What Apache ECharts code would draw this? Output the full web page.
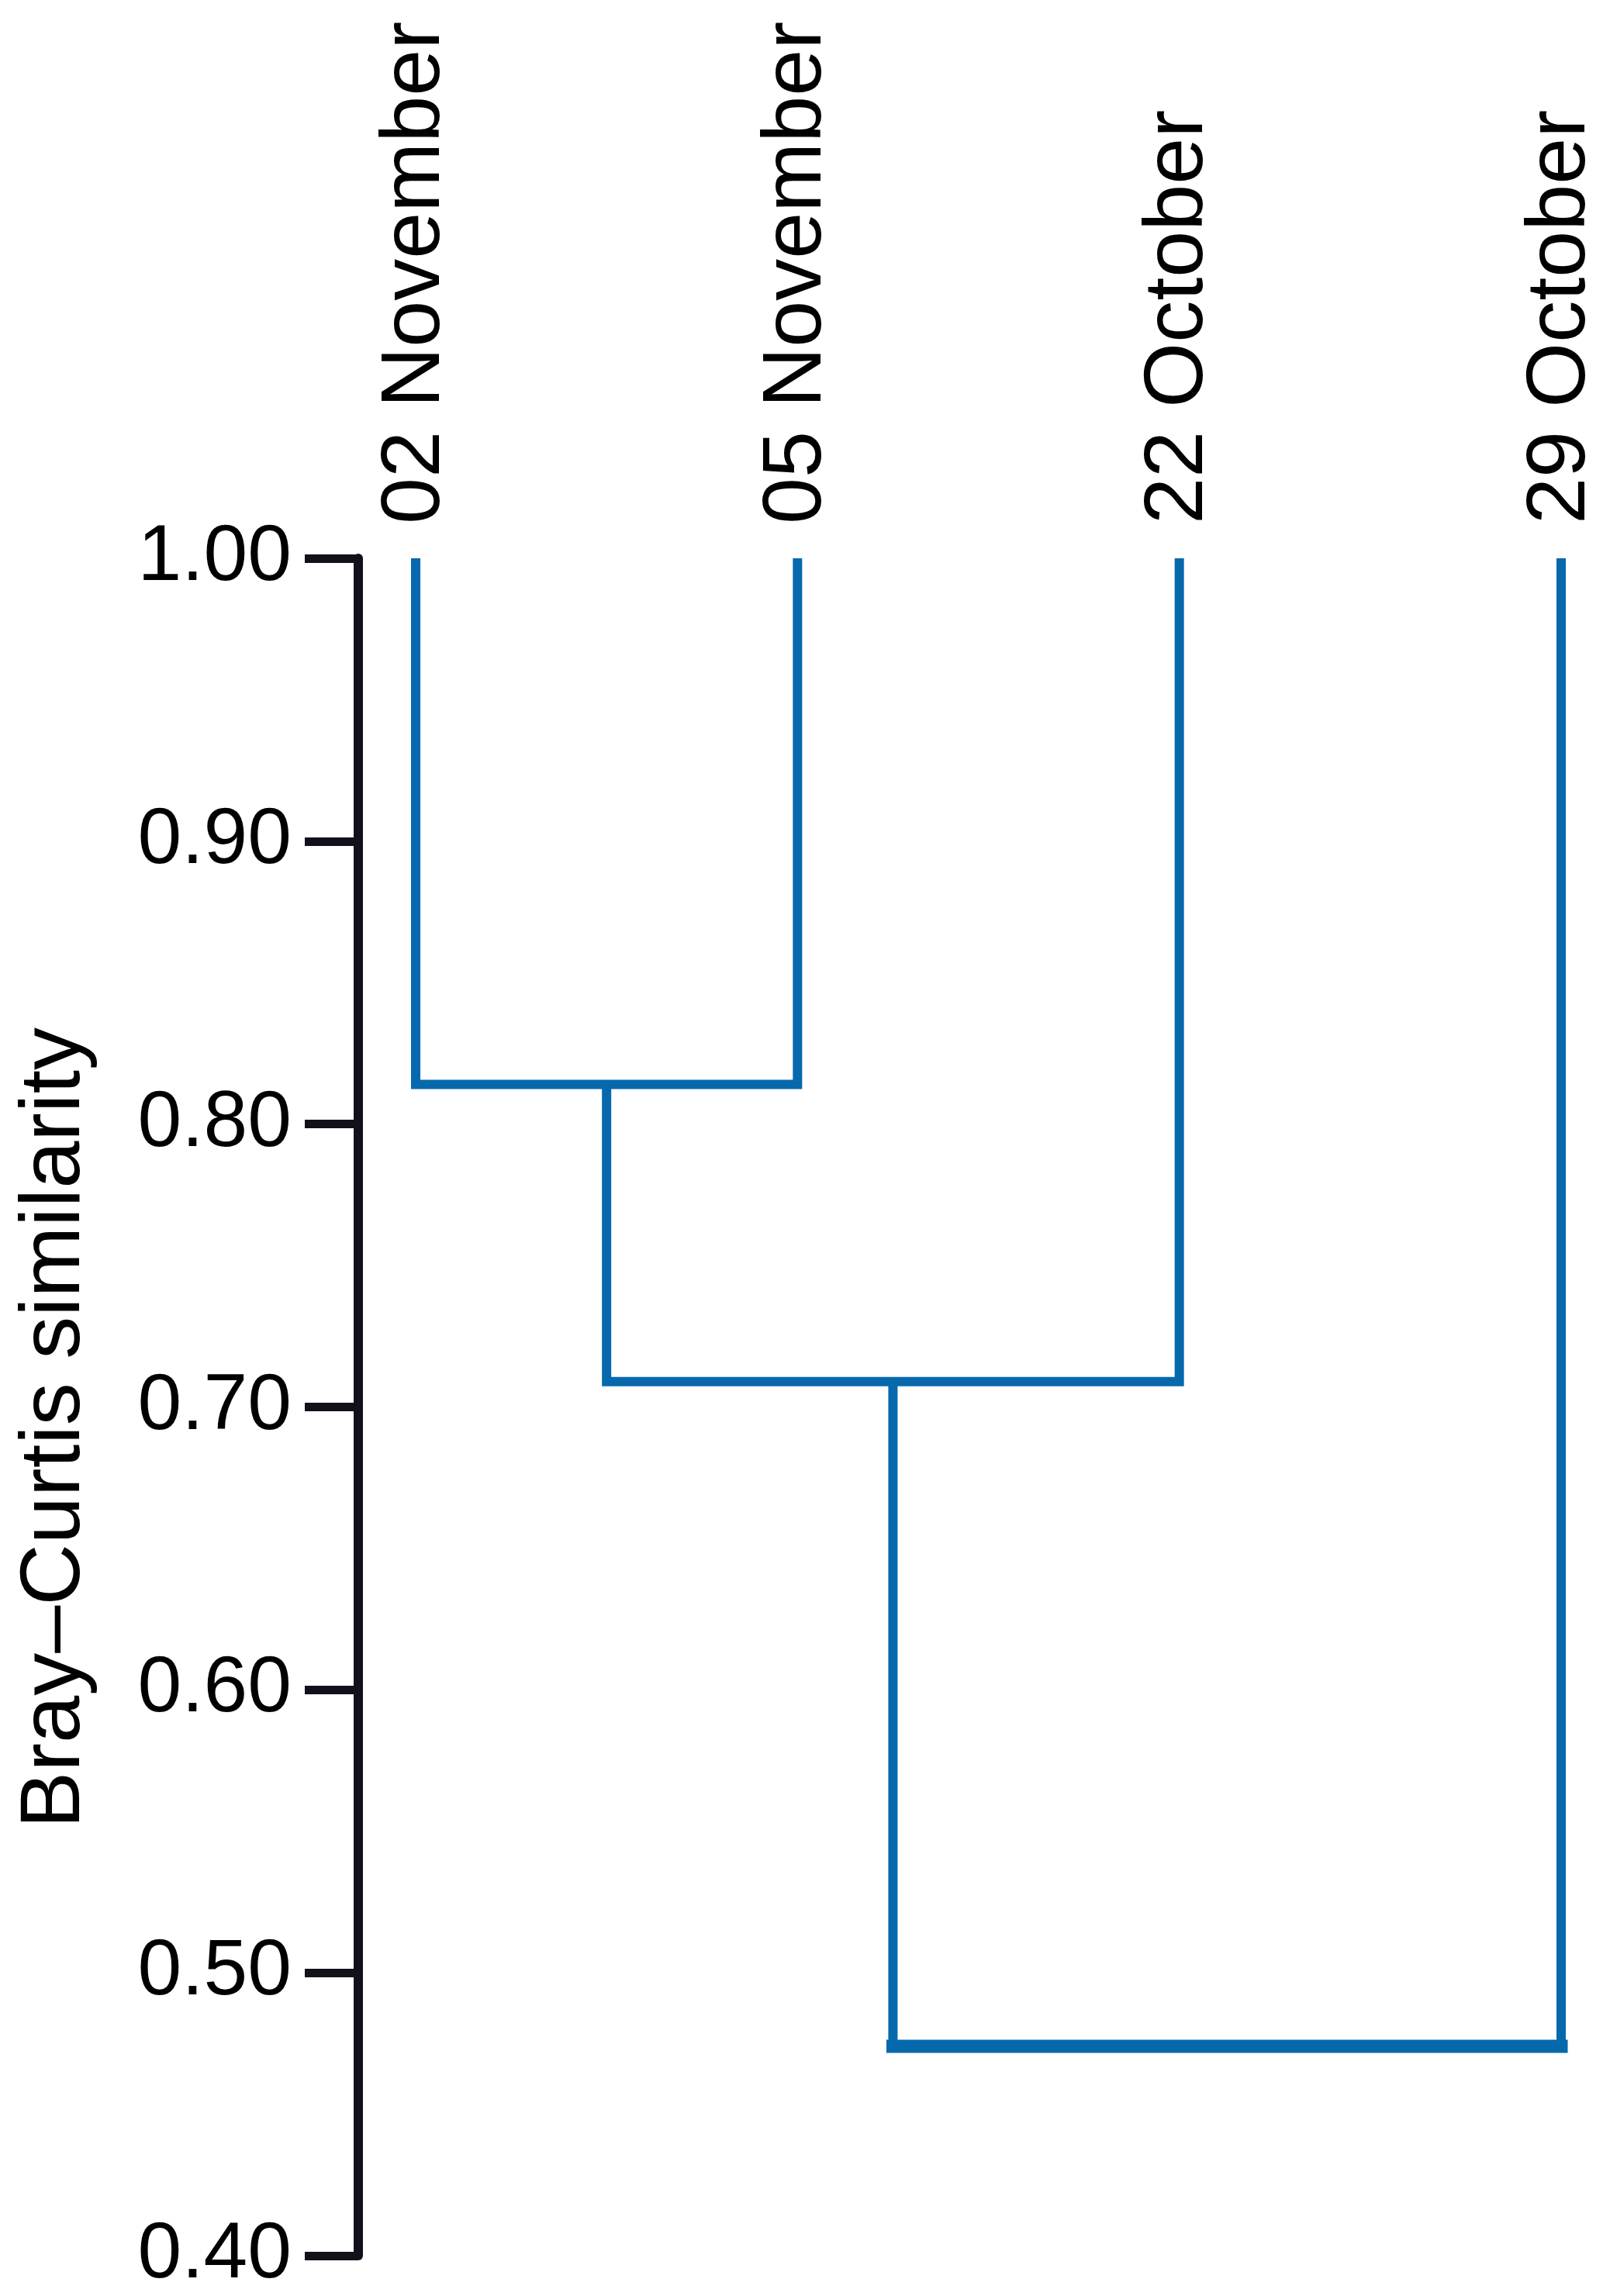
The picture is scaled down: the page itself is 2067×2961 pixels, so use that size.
<!DOCTYPE html>
<html>
<head>
<meta charset="utf-8">
<script src="https://cdn.jsdelivr.net/npm/echarts@6/dist/echarts.min.js"></script>
<style>
    html, body { margin: 0; padding: 0; background: #fff; }
    #chart { width: 2067px; height: 2961px; }
</style>
</head>
<body>
<div id="chart"></div>
<script>
// leaves of the dendrogram, left to right
const leafNames = ['02 November', '05 November', '22 October', '29 October']
// each merge joins two clusters (0..3 are leaves, 4.. are earlier merges)
const mergePairs = [[0, 1], [4, 2], [5, 3]]
const mergeHeights = [0.814, 0.709, 0.474]
// similarity axis
const yTicks = [0.4, 0.5, 0.6, 0.7, 0.8, 0.9, 1.0]

const blue = '#0669ad'
const ink = '#12111a'
const font = '"Liberation Sans", Arial, sans-serif'

// position and top height of every cluster
const nodeX = leafNames.map((n, i) => i)
const nodeY = leafNames.map(() => 1.0)
mergePairs.forEach((p, k) => {
    nodeX.push((nodeX[p[0]] + nodeX[p[1]]) / 2)
    nodeY.push(mergeHeights[k])
})

// one U-shaped link per merge
const linkSeries = mergePairs.map((p, k) => {
    const a = p[0], b = p[1], h = mergeHeights[k]
    return {
        type: 'line',
        data: [[nodeX[a], nodeY[a]], [nodeX[a], h], [nodeX[b], h], [nodeX[b], nodeY[b]]],
        symbol: 'none',
        clip: false,
        silent: true,
        lineStyle: { color: blue, width: 12, join: 'miter', cap: 'butt' }
    }
})
// the last (root) bar is drawn a bit heavier
const last = mergePairs.length - 1
linkSeries.push({
    type: 'line',
    data: [[nodeX[mergePairs[last][0]], mergeHeights[last]], [nodeX[mergePairs[last][1]], mergeHeights[last]]],
    symbol: 'none',
    clip: false,
    silent: true,
    lineStyle: { color: blue, width: 17, cap: 'square' }
})

const chart = echarts.init(document.getElementById('chart'))

chart.setOption({
    animation: false,
    backgroundColor: '#fff',
    grid: { left: 536, right: 44, top: 720, bottom: 52 },
    xAxis: [
        {
            type: 'value',
            min: 0,
            max: leafNames.length - 1,
            show: false
        },
        {
            type: 'category',
            position: 'top',
            boundaryGap: false,
            data: leafNames,
            axisLine: { show: false },
            axisTick: { show: false },
            axisLabel: {
                rotate: -90,
                margin: 44,
                fontSize: 108,
                fontFamily: font,
                color: '#000',
                padding: [44, 0, 0, 0]
            }
        }
    ],
    yAxis: {
        type: 'value',
        min: 0.4,
        max: 1.0,
        interval: 0.1,
        offset: 74,
        splitLine: { show: false },
        axisLine: { show: true, onZero: false, lineStyle: { color: ink, width: 12 } },
        axisTick: { show: true, length: 69, lineStyle: { color: ink, width: 11 } },
        axisLabel: {
            margin: 86,
            fontSize: 102,
            fontFamily: font,
            color: '#000',
            formatter: v => v.toFixed(2)
        },
        name: 'Bray–Curtis similarity',
        nameLocation: 'middle',
        nameRotate: 90,
        nameGap: 335,
        nameTextStyle: { fontSize: 110, fontFamily: font, color: '#000', padding: [0, 54, 0, 0] }
    },
    series: linkSeries
})
</script>
</body>
</html>
